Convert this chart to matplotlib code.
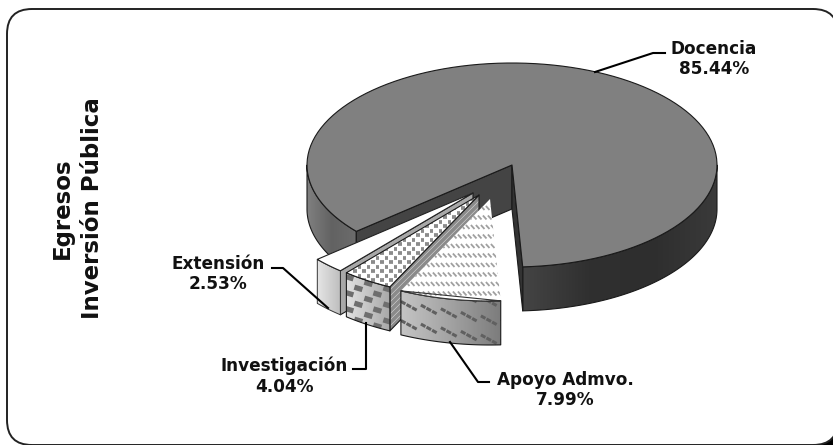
import numpy as np
import matplotlib
matplotlib.use('Agg')
import matplotlib.pyplot as plt
from matplotlib.collections import LineCollection
from matplotlib.colors import LinearSegmentedColormap
from matplotlib.patches import FancyBboxPatch, Polygon, Rectangle

names = ['Docencia', 'Extensión', 'Investigación', 'Apoyo Admvo.']
shares = [85.44, 2.53, 4.04, 7.99]
side_title = 'Egresos\nInversión Pública'

# pie geometry, in pixels of the 833x445 picture
cx, cy = 512, 165
a, b = 205, 102
depth = 44
start_angle = 273
shifts = [(0, 0), (-39, 28), (-33, 30), (-22, 34)]

fig = plt.figure(figsize=(8.33, 4.45), dpi=100)
ax = fig.add_axes([0, 0, 1, 1])
ax.axis('off')


def arc(t0, t1, ox=0, oy=0, drop=0):
    t = np.radians(np.linspace(t0, t1, 120))
    return np.column_stack([cx + ox + a * np.cos(t), cy + oy + drop - b * np.sin(t)])


def shape(pts, face='none', edge='none', lw=1.0, z=2):
    p = Polygon(pts, closed=True, facecolor=face, edgecolor=edge, linewidth=lw,
                joinstyle='round', zorder=z)
    ax.add_patch(p)
    return p


def gradient(pts, colors, z=2):
    # horizontal grey ramp clipped to the polygon
    pts = np.asarray(pts)
    cmap = LinearSegmentedColormap.from_list('g', colors)
    extent = [pts[:, 0].min(), pts[:, 0].max(), pts[:, 1].max(), pts[:, 1].min()]
    im = ax.imshow(np.linspace(0, 1, 200).reshape(1, -1), cmap=cmap, extent=extent,
                   aspect='auto', zorder=z, interpolation='bilinear')
    im.set_clip_path(shape(pts, z=z))


def outer_wall(t0, t1, ox, oy):
    return np.vstack([arc(t0, t1, ox, oy), arc(t1, t0, ox, oy, depth)])


def cut_wall(t, ox, oy):
    rim = arc(t, t, ox, oy)[0]
    apex = np.array([cx + ox, cy + oy])
    return np.array([apex, rim, rim + [0, depth], apex + [0, depth]])


def texture(pts, segs, color, lw, z, cap='butt'):
    lc = LineCollection(segs, colors=color, linewidths=lw, zorder=z, capstyle=cap)
    ax.add_collection(lc)
    lc.set_clip_path(shape(pts, z=z))


def dashes(pts, dx, dy, length, slope, stagger=0.0, chain=1):
    pts = np.asarray(pts)
    x0, y0 = pts.min(axis=0) - 20
    x1, y1 = pts.max(axis=0) + 20
    segs = []
    for i, y in enumerate(np.arange(y0 - 30, y1, dy)):
        for x in np.arange(x0, x1, dx):
            xx = x + (i % 2) * stagger
            yy = y + (xx - x0) * slope[1]
            for k in range(chain):
                sx = xx + k * length * 1.25
                sy = yy + k * length * 1.25 * slope[0]
                segs.append([(sx, sy), (sx + length, sy + length * slope[0])])
    return segs


# frame
ax.add_patch(Rectangle((813, 420), 25, 30, facecolor='black', edgecolor='none', zorder=0))
ax.add_patch(FancyBboxPatch((7, 9), 831, 436, boxstyle='round,pad=0,rounding_size=25',
                            facecolor='white', edgecolor='#222222', linewidth=1.4, zorder=1))

# slice angles from the shares
angles = [start_angle]
for s in shares:
    angles.append(angles[-1] + s * 3.6)

# Docencia
t0, t1 = angles[0], angles[1]
t_left = t1 - 360
line_kw = dict(edge='#1a1a1a', lw=0.8)
gradient(outer_wall(180, t_left, 0, 0), ['#808080', '#626262', '#6c6c6c'], z=2)
shape(outer_wall(180, t_left, 0, 0), z=2.1, **line_kw)
gradient(outer_wall(t0, 360, 0, 0), ['#444444', '#303030', '#2e2e2e', '#3a3a3a'], z=2)
shape(outer_wall(t0, 360, 0, 0), z=2.1, **line_kw)
shape(cut_wall(t_left, 0, 0), face='#444444', z=2.2, **line_kw)
shape(cut_wall(t0, 0, 0), face='#333333', z=2.3, **line_kw)
shape(np.vstack([[cx, cy], arc(t0, t1)]), face='#808080', z=2.4, **line_kw)

# Extension
t0, t1 = angles[1] - 360, angles[2] - 360
ox, oy = shifts[1]
shape(cut_wall(t1, ox, oy), face='#a8a8a8', z=3, **line_kw)
gradient(outer_wall(t0, t1, ox, oy), ['#e6e6e6', '#bdbdbd'], z=3.1)
shape(outer_wall(t0, t1, ox, oy), z=3.2, edge='#333333', lw=0.7)
shape(np.vstack([[cx + ox, cy + oy], arc(t0, t1, ox, oy)]), face='white', z=3.3, edge='#222222', lw=0.8)

# Investigacion
t0, t1 = angles[2] - 360, angles[3] - 360
ox, oy = shifts[2]
pts = cut_wall(t1, ox, oy)
shape(pts, face='#d0d0d0', z=4)
texture(pts, dashes(pts, 400, 6, 380, (-1.0, 0)), '#8a8a8a', 2.6, 4.1)
shape(pts, z=4.2, **line_kw)
pts = outer_wall(t0, t1, ox, oy)
gradient(pts, ['#e2e2e2', '#a8a8a8'], z=4.3)
texture(pts, dashes(pts, 19, 8, 8, (0.3, 0.3), stagger=9), '#6e6e6e', 3.8, 4.4)
shape(pts, z=4.5, **line_kw)
pts = np.vstack([[cx + ox, cy + oy], arc(t0, t1, ox, oy)])
shape(pts, face='white', z=4.6)
texture(pts, dashes(pts, 9, 4.5, 3.6, (0.0, 0.0), stagger=4.5), '#8c8c8c', 2.7, 4.7)
shape(pts, z=4.8, **line_kw)

# Apoyo Admvo.
t0, t1 = angles[3] - 360, angles[4] - 360
ox, oy = shifts[3]
pts = outer_wall(t0, t1, ox, oy)
gradient(pts, ['#c4c4c4', '#a2a2a2', '#7c7c7c'], z=5)
texture(pts, dashes(pts, 20, 19, 4.5, (0.55, 0.18), chain=3), '#606060', 2.2, 5.1)
shape(pts, z=5.2, **line_kw)
pts = np.vstack([[cx + ox, cy + oy], arc(t0, t1, ox, oy)])
shape(pts, face='white', z=5.3)
texture(pts, dashes(pts, 5, 9.5, 3.6, (1.1, 0.0), stagger=2), '#a0a0a0', 1.3, 5.4)
shape(arc(t0, t1, ox, oy), z=5.5, edge='#333333', lw=0.8)

# leaders and labels
leaders = [[(595, 72), (653, 53), (665, 53)],
           [(272, 268), (283, 268), (328, 308)],
           [(353, 369), (366, 369), (366, 323)],
           [(450, 342), (478, 382), (489, 382)]]
label_pos = [(714, 59), (218, 274), (284, 376), (565, 390)]
for name, share, path, pos in zip(names, shares, leaders, label_pos):
    xs, ys = zip(*path)
    ax.plot(xs, ys, color='black', linewidth=1.5, zorder=6, solid_joinstyle='round')
    ax.text(pos[0], pos[1], f'{name}\n{share:.2f}%', ha='center', va='center',
            family='DejaVu Sans', fontweight='bold', fontsize=12.2, color='#111111',
            linespacing=1.2, zorder=7)

ax.text(77, 208, side_title, rotation=90, ha='center', va='center', multialignment='center',
        family='DejaVu Sans', fontweight='bold', fontsize=16.5, color='#111111', linespacing=1.4)

ax.set_xlim(0, 833)
ax.set_ylim(445, 0)
fig.savefig('out.png', dpi=100)
